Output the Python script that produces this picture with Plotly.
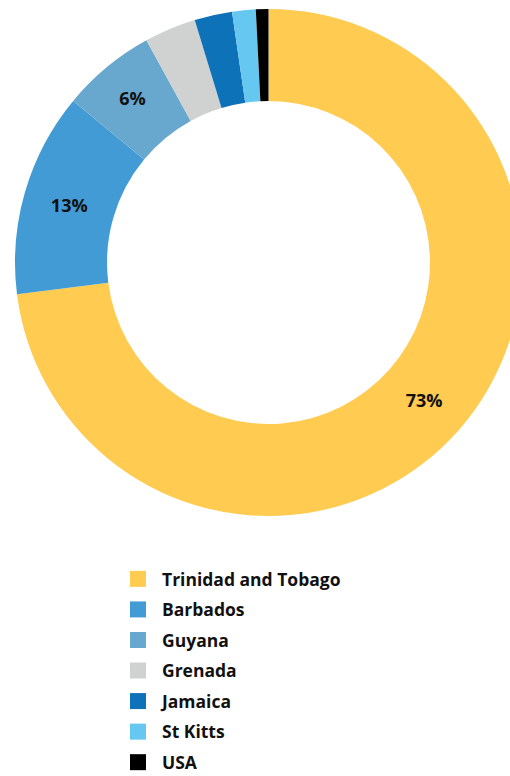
import plotly.graph_objects as go

# Share of total by country
countries = ["Trinidad and Tobago", "Barbados", "Guyana", "Grenada", "Jamaica", "St Kitts", "USA"]
shares = [73, 13, 6, 3.3, 2.4, 1.5, 0.8]
colors = ["#FFCB50", "#429BD5", "#68A8CE", "#D0D1D1", "#0E72B9", "#66C7F0", "#000000"]

# Only the larger slices carry a percentage label
labels_text = [f"{v:.0f}%" if v >= 5 else "" for v in shares]

FONT = "Open Sans"
W, H = 536, 776

fig = go.Figure()

fig.add_trace(go.Pie(
    labels=countries,
    values=shares,
    text=labels_text,
    textinfo="text",
    texttemplate="%{text}",
    textposition="inside",
    insidetextorientation="horizontal",
    textfont=dict(family=FONT, size=18, color="#111111", weight=700),
    marker=dict(colors=colors, line=dict(width=0)),
    hole=0.637,
    sort=False,
    direction="clockwise",
    rotation=0,
    showlegend=False,
    domain=dict(x=[15 / W, 522 / W], y=[(H - 516) / H, (H - 9) / H]),
))

# Legend entries as square markers, one group per country for even spacing
for name, col in zip(countries, colors):
    fig.add_trace(go.Scatter(
        x=[None], y=[None], mode="markers", name=name,
        legendgroup=name,
        marker=dict(symbol="square", size=16, color=col),
        showlegend=True,
    ))

fig.update_layout(
    width=W, height=H,
    margin=dict(l=0, r=0, t=0, b=0, autoexpand=False),
    paper_bgcolor="white",
    plot_bgcolor="white",
    xaxis=dict(visible=False),
    yaxis=dict(visible=False),
    showlegend=True,
    legend=dict(
        x=114 / W, xanchor="left",
        y=1 - 561 / H, yanchor="top",
        itemwidth=38,
        tracegroupgap=4.8,
        font=dict(family=FONT, size=17.5, color="#111111", weight=700),
        bgcolor="rgba(0,0,0,0)",
    ),
)

fig.write_html(
    "out.html",
    post_script="document.body.style.overflow='hidden';document.documentElement.style.overflow='hidden';",
)
